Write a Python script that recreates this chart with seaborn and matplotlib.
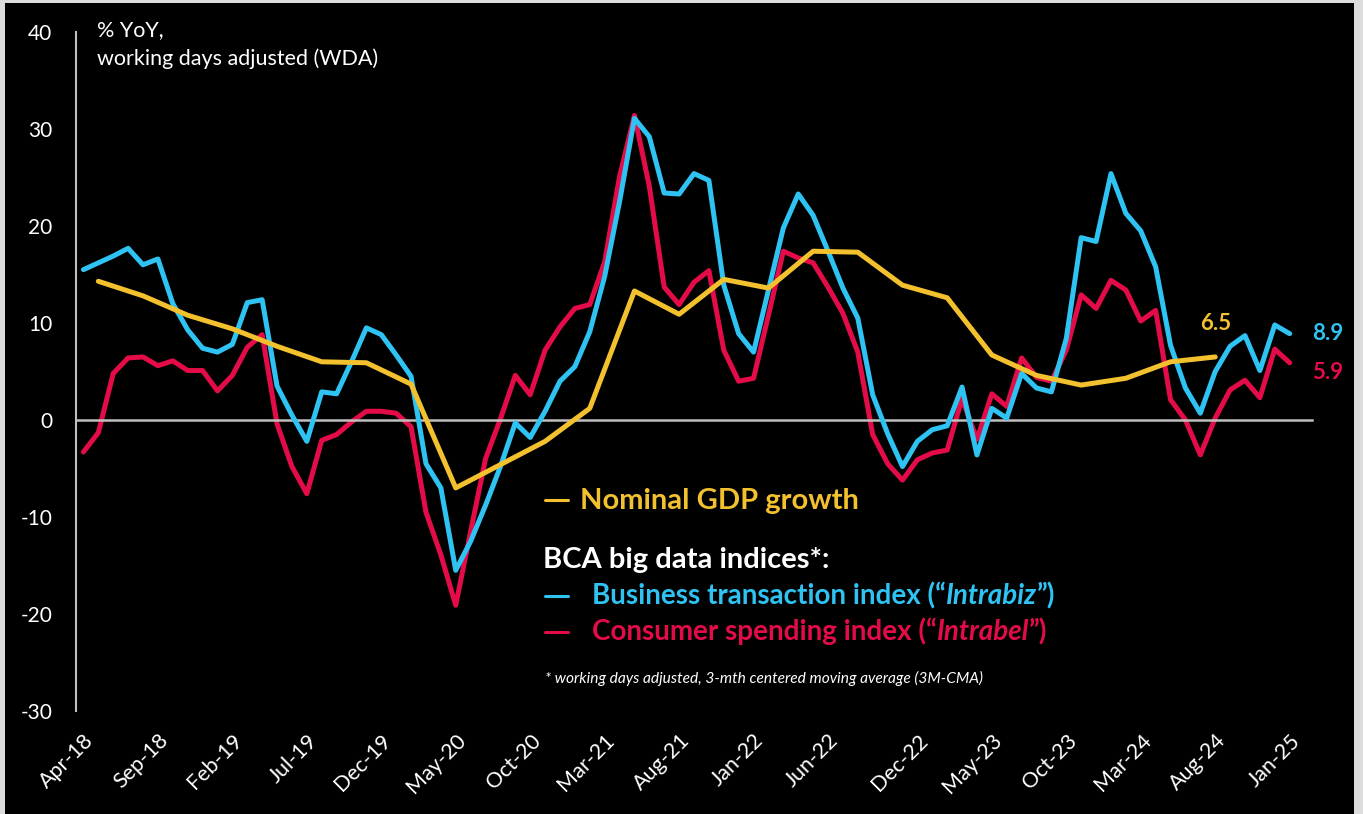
import numpy as np
import pandas as pd
import matplotlib
matplotlib.use("Agg")
import matplotlib.pyplot as plt
from matplotlib.patches import Rectangle
from matplotlib.lines import Line2D
import seaborn as sns

# ---------------- data ----------------
months = list(pd.date_range("2018-04-01", "2025-01-01", freq="MS").strftime("%b-%y"))

intrabiz = [15.5, 16.2, 16.9, 17.7, 16.0, 16.6, 12.0, 9.3, 7.4, 7.0,
            7.8, 12.1, 12.4, 3.5, 0.5, -2.2, 2.9, 2.7, 6.0, 9.5,
            8.8, 6.7, 4.5, -4.5, -7.0, -15.5, -12.5, -8.8, -4.8, -0.3,
            -1.8, 0.9, 4.0, 5.5, 9.1, 14.8, 22.5, 31.1, 29.2, 23.4,
            23.3, 25.4, 24.7, 13.9, 8.9, 7.0, 13.4, 19.8, 23.3, 21.1,
            17.4, 13.6, 10.5, 2.6, -1.4, -4.8, -2.2, -1.0, -0.6, 3.4,
            -3.6, 1.2, 0.2, 4.8, 3.3, 2.9, 8.4, 18.8, 18.4, 25.4,
            21.3, 19.5, 15.8, 7.7, 3.3, 0.7, 5.0, 7.6, 8.7, 5.1,
            9.8, 8.9]

intrabel = [-3.3, -1.3, 4.8, 6.4, 6.5, 5.6, 6.1, 5.1, 5.1, 3.0,
            4.6, 7.5, 8.8, -0.4, -4.8, -7.6, -2.1, -1.5, -0.2, 0.9,
            0.9, 0.7, -0.7, -9.5, -13.9, -19.1, -11.5, -4.0, 0.1, 4.6,
            2.6, 7.2, 9.6, 11.5, 11.9, 16.3, 25.1, 31.4, 24.1, 13.7,
            11.9, 14.2, 15.4, 7.2, 4.0, 4.3, 10.8, 17.4, 16.7, 16.2,
            13.7, 11.0, 7.0, -1.5, -4.5, -6.2, -4.1, -3.4, -3.1, 2.2,
            -2.0, 2.7, 1.4, 6.4, 4.4, 4.0, 7.2, 12.9, 11.5, 14.4,
            13.4, 10.2, 11.3, 2.1, 0.0, -3.6, 0.2, 3.1, 4.1, 2.3,
            7.3, 5.9]

gdp_months = list(pd.date_range("2018-05-01", "2024-08-01", freq="3MS").strftime("%b-%y"))
gdp = [14.3, 12.8, 10.8, 9.4, 7.6, 6.0, 5.9, 3.7, -7.0, -4.6,
       -2.2, 1.2, 13.3, 10.9, 14.5, 13.6, 17.4, 17.3, 13.9, 12.6,
       6.7, 4.6, 3.6, 4.3, 6.0, 6.5]

tick_labels = ["Apr-18", "Sep-18", "Feb-19", "Jul-19", "Dec-19", "May-20",
               "Oct-20", "Mar-21", "Aug-21", "Jan-22", "Jun-22", "Dec-22",
               "May-23", "Oct-23", "Mar-24", "Aug-24", "Jan-25"]

# ---------------- style ----------------
BLUE = "#2EC3F2"
RED = "#E40C48"
YELLOW = "#F3C12E"
GREY = "#BFBFBF"

sns.set_theme(style="white")
plt.rcParams["font.family"] = ["Lato", "DejaVu Sans"]
plt.rcParams["axes.unicode_minus"] = False

W, H = 1363, 814
fig = plt.figure(figsize=(W / 100, H / 100), dpi=100, facecolor="#dcdcdc")
fig.patches.append(Rectangle((5 / W, 0), (1354 - 5) / W, (H - 3) / H,
                             transform=fig.transFigure, facecolor="black",
                             edgecolor="none", zorder=-10))


def fx(x):
    return x / W


def fy(y):
    return 1 - y / H


ax = fig.add_axes([fx(76), fy(711), (1312 - 76) / W, (711 - 32) / H])
ax.set_facecolor("none")

df = pd.DataFrame({"pos": np.arange(len(months)), "biz": intrabiz, "bel": intrabel})
gdf = pd.DataFrame({"pos": [months.index(m) for m in gdp_months], "gdp": gdp})

sns.lineplot(data=df, x="pos", y="bel", ax=ax, color=RED, lw=3.6, zorder=2)
sns.lineplot(data=df, x="pos", y="biz", ax=ax, color=BLUE, lw=3.6, zorder=3)
sns.lineplot(data=gdf, x="pos", y="gdp", ax=ax, color=YELLOW, lw=3.6, zorder=4)

ax.set_xlim(-0.5, len(months) + 0.5)
ax.set_ylim(-30, 40)
ax.set_xlabel("")
ax.set_ylabel("")

# y axis
ax.set_yticks(range(-30, 41, 10))
ax.tick_params(axis="y", length=0, pad=17, labelsize=15, labelcolor="white")
for s in ["top", "right"]:
    ax.spines[s].set_visible(False)
ax.spines["left"].set_color(GREY)
ax.spines["left"].set_linewidth(1.5)

# x axis line at zero with boundary tick marks
label_pos = [months.index(t) for t in tick_labels]
ax.spines["bottom"].set_position(("data", 0))
ax.spines["bottom"].set_color(GREY)
ax.spines["bottom"].set_linewidth(1.8)
ax.set_xticks([p - 0.5 for p in label_pos[1:]])
ax.tick_params(axis="x", length=5, width=1.5, color=GREY, direction="out",
               labelbottom=False)

sec = ax.secondary_xaxis("bottom")
sec.set_xticks(label_pos, labels=tick_labels)
sec.tick_params(length=0, pad=14, labelsize=15.5, labelcolor="white")
sec.spines["bottom"].set_visible(False)
for lbl in sec.get_xticklabels():
    lbl.set_rotation(45)
    lbl.set_ha("right")
    lbl.set_rotation_mode("anchor")

# axis title
fig.text(fx(97), fy(36), "% YoY,", color="white", fontsize=15.5, va="baseline")
fig.text(fx(97), fy(65), "working days adjusted (WDA)", color="white", fontsize=15.5, va="baseline")

# end labels
ax.annotate(f"{gdp[-1]:.1f}", xy=(gdf["pos"].iloc[-1], gdp[-1]), xytext=(0, 24),
            textcoords="offset points", ha="center", va="center", color=YELLOW,
            fontsize=16, fontweight="bold")
ax.annotate(f"{intrabiz[-1]:.1f}", xy=(len(months) - 1, intrabiz[-1]), xytext=(16, 0),
            textcoords="offset points", ha="left", va="center", color=BLUE,
            fontsize=16, fontweight="bold")
ax.annotate(f"{intrabel[-1]:.1f}", xy=(len(months) - 1, intrabel[-1]), xytext=(16, -7),
            textcoords="offset points", ha="left", va="center", color=RED,
            fontsize=16, fontweight="bold")


# legend block
def chain(x, y, parts, size, weight="bold"):
    prev = fig.text(fx(x), fy(y), parts[0][0], color=parts[0][1], fontsize=size,
                    fontweight=weight, fontstyle=parts[0][2], ha="left", va="baseline")
    for txt, col, style in parts[1:]:
        prev = ax.annotate(txt, xy=(1, 0), xycoords=prev, ha="left", va="bottom",
                           color=col, fontsize=size, fontweight=weight, fontstyle=style)
    return prev


def dash(y, color):
    fig.add_artist(Line2D([fx(545), fx(568)], [fy(y), fy(y)], color=color, lw=2.2,
                          transform=fig.transFigure))


dash(500, YELLOW)
fig.text(fx(580), fy(509), "Nominal GDP growth", color=YELLOW, fontsize=21,
         fontweight="bold", va="baseline")
fig.text(fx(543), fy(568), "BCA big data indices*:", color="white", fontsize=21,
         fontweight="bold", va="baseline")
dash(596, BLUE)
chain(592, 604, [("Business transaction index (“", BLUE, "normal"),
                 ("Intrabiz", BLUE, "italic"),
                 ("”)", BLUE, "normal")], 20)
dash(632, RED)
chain(592, 640, [("Consumer spending index (“", RED, "normal"),
                 ("Intrabel", RED, "italic"),
                 ("”)", RED, "normal")], 20)
fig.text(fx(545), fy(683),
         "* working days adjusted, 3-mth centered moving average (3M-CMA)",
         color="white", fontsize=11.2, fontstyle="italic", va="baseline")

fig.savefig("out.png", dpi=100, facecolor=fig.get_facecolor())
